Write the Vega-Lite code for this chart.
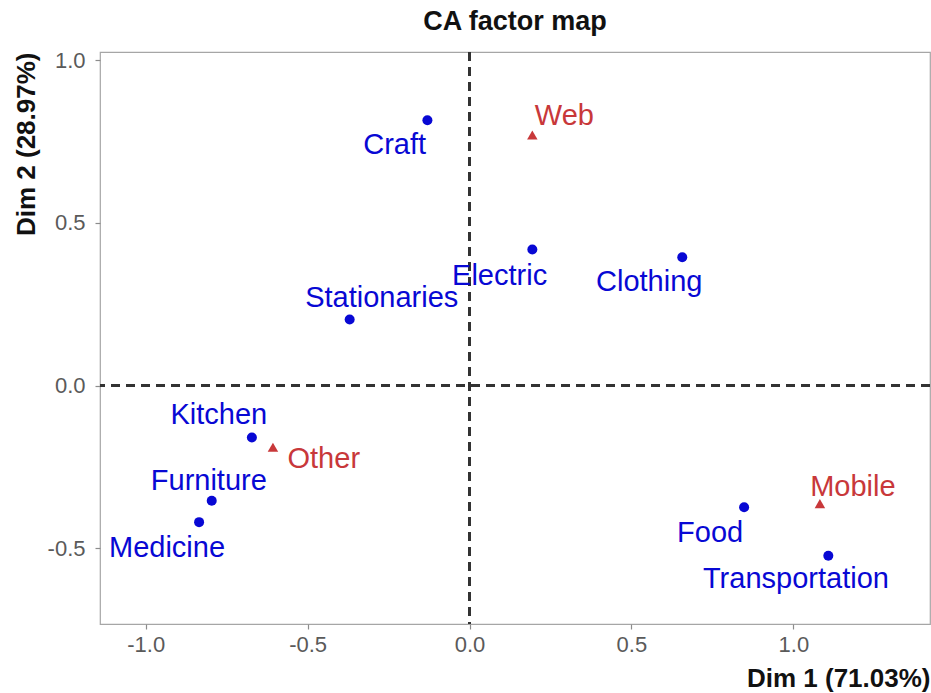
{
  "$schema": "https://vega.github.io/schema/vega-lite/v6.json",
  "width": 830,
  "height": 572,
  "autosize": "none",
  "padding": {"left": 100, "top": 52, "right": 1, "bottom": 69},
  "background": "white",
  "title": {
    "text": "CA factor map",
    "fontSize": 27,
    "fontWeight": "bold",
    "color": "#111111",
    "anchor": "middle",
    "offset": 13
  },
  "config": {
    "font": "Liberation Sans",
    "view": {"stroke": "#a6a6a6", "strokeWidth": 1.2}
  },
  "data": {
    "values": [
      {"name": "Craft", "type": "row", "dim1": -0.13, "dim2": 0.815, "lx": -0.231, "ly": 0.738},
      {"name": "Electric", "type": "row", "dim1": 0.194, "dim2": 0.418, "lx": 0.093, "ly": 0.338},
      {"name": "Clothing", "type": "row", "dim1": 0.657, "dim2": 0.394, "lx": 0.555, "ly": 0.317},
      {"name": "Stationaries", "type": "row", "dim1": -0.37, "dim2": 0.203, "lx": -0.271, "ly": 0.268},
      {"name": "Kitchen", "type": "row", "dim1": -0.672, "dim2": -0.16, "lx": -0.774, "ly": -0.092},
      {"name": "Furniture", "type": "row", "dim1": -0.796, "dim2": -0.354, "lx": -0.805, "ly": -0.295},
      {"name": "Medicine", "type": "row", "dim1": -0.835, "dim2": -0.42, "lx": -0.934, "ly": -0.498},
      {"name": "Food", "type": "row", "dim1": 0.848, "dim2": -0.374, "lx": 0.743, "ly": -0.452},
      {"name": "Transportation", "type": "row", "dim1": 1.108, "dim2": -0.523, "lx": 1.008, "ly": -0.594},
      {"name": "Web", "type": "col", "dim1": 0.194, "dim2": 0.77, "lx": 0.293, "ly": 0.828},
      {"name": "Other", "type": "col", "dim1": -0.607, "dim2": -0.19, "lx": -0.45, "ly": -0.225},
      {"name": "Mobile", "type": "col", "dim1": 1.082, "dim2": -0.363, "lx": 1.184, "ly": -0.311}
    ]
  },
  "layer": [
    {
      "mark": {"type": "rule", "strokeDash": [9, 6], "strokeWidth": 2.5, "color": "#333333"},
      "encoding": {
        "x": {"datum": 0, "type": "quantitative", "title": "Dim 1 (71.03%)"}
      }
    },
    {
      "mark": {"type": "rule", "strokeDash": [9, 6], "strokeWidth": 2.5, "color": "#333333"},
      "encoding": {
        "y": {"datum": 0, "type": "quantitative", "title": "Dim 2 (28.97%)"}
      }
    },
    {
      "mark": {"type": "point", "filled": true, "opacity": 1},
      "encoding": {
        "x": {
          "field": "dim1",
          "type": "quantitative",
          "title": "Dim 1 (71.03%)",
          "scale": {"domain": [-1.141, 1.422], "nice": false, "zero": false},
          "axis": {
            "values": [-1, -0.75, -0.5, -0.25, 0, 0.25, 0.5, 0.75, 1, 1.25],
            "labelExpr": "abs(datum.value*2-round(datum.value*2))<0.001 ? replace(format(datum.value,'.1f'),'\u2212','-') : ''",
            "labelOverlap": false,
            "labelFlush": false,
            "gridColor": {"condition": {"test": "abs(datum.value*2-round(datum.value*2))<0.001", "value": "#dedede"}, "value": "#efefef"},
            "gridWidth": 1.1,
            "tickOpacity": {"condition": {"test": "abs(datum.value*2-round(datum.value*2))<0.001", "value": 1}, "value": 0},
            "tickColor": "#8c8c8c",
            "tickSize": 5,
            "tickWidth": 1.2,
            "domain": false,
            "labelFontSize": 22,
            "labelColor": "#5a5a5a",
            "labelPadding": 5,
            "titleFontSize": 26,
            "titleFontWeight": "bold",
            "titleColor": "#111111",
            "titleAnchor": "end",
            "titlePadding": 10
          }
        },
        "y": {
          "field": "dim2",
          "type": "quantitative",
          "title": "Dim 2 (28.97%)",
          "scale": {"domain": [-0.733, 1.025], "nice": false, "zero": false},
          "axis": {
            "values": [-0.5, -0.25, 0, 0.25, 0.5, 0.75, 1],
            "labelExpr": "abs(datum.value*2-round(datum.value*2))<0.001 ? replace(format(datum.value,'.1f'),'\u2212','-') : ''",
            "labelOverlap": false,
            "labelFlush": false,
            "gridColor": {"condition": {"test": "abs(datum.value*2-round(datum.value*2))<0.001", "value": "#dedede"}, "value": "#efefef"},
            "gridWidth": 1.1,
            "tickOpacity": {"condition": {"test": "abs(datum.value*2-round(datum.value*2))<0.001", "value": 1}, "value": 0},
            "tickColor": "#8c8c8c",
            "tickSize": 5,
            "tickWidth": 1.2,
            "domain": false,
            "labelFontSize": 22,
            "labelColor": "#5a5a5a",
            "labelPadding": 10,
            "titleFontSize": 26,
            "titleFontWeight": "bold",
            "titleColor": "#111111",
            "titleAnchor": "end",
            "titlePadding": 8
          }
        },
        "color": {
          "field": "type",
          "type": "nominal",
          "scale": {"domain": ["row", "col"], "range": ["#0808d4", "#c8383a"]},
          "legend": null
        },
        "shape": {
          "field": "type",
          "type": "nominal",
          "scale": {"domain": ["row", "col"], "range": ["circle", "triangle-up"]},
          "legend": null
        },
        "size": {
          "field": "type",
          "type": "nominal",
          "scale": {"domain": ["row", "col"], "range": [100, 110]},
          "legend": null
        }
      }
    },
    {
      "mark": {"type": "text", "fontSize": 29, "align": "center", "baseline": "middle"},
      "encoding": {
        "x": {"field": "lx", "type": "quantitative", "title": "Dim 1 (71.03%)"},
        "y": {"field": "ly", "type": "quantitative", "title": "Dim 2 (28.97%)"},
        "text": {"field": "name"},
        "color": {
          "field": "type",
          "type": "nominal",
          "scale": {"domain": ["row", "col"], "range": ["#2e2ec2", "#cc4444"]},
          "legend": null
        }
      }
    }
  ]
}
